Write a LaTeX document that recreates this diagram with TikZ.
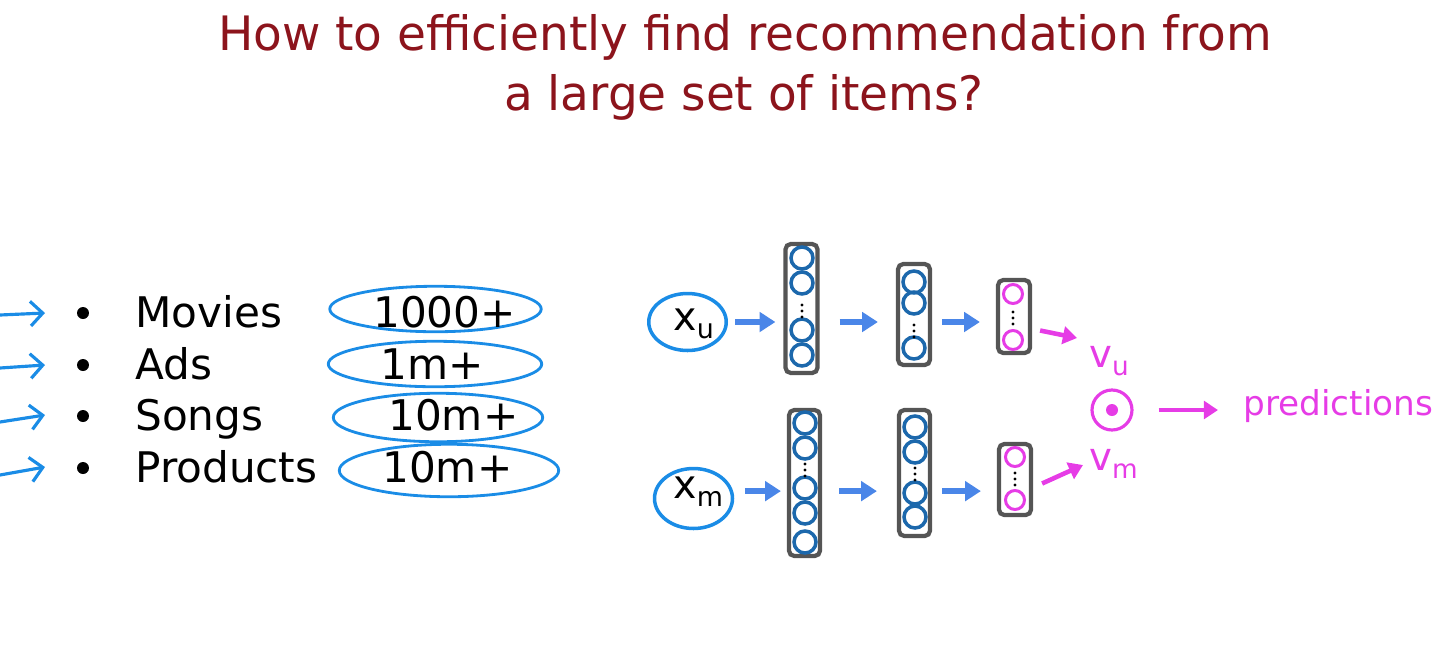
\documentclass[tikz,border=0pt]{standalone}
\usepackage{fontspec}
\setmainfont{DejaVu Sans}
\newfontfamily\condfont[FakeStretch=1.1]{DejaVu Sans Condensed}
\usetikzlibrary{arrows.meta,shapes.geometric,calc}
\definecolor{titlered}{HTML}{8C141C}
\definecolor{penblue}{HTML}{1A8CE6}
\definecolor{unitblue}{HTML}{1C68AC}
\definecolor{flowblue}{HTML}{4A86E8}
\definecolor{boxgray}{HTML}{555555}
\definecolor{vecpink}{HTML}{E63CE6}
\newcommand{\lowidx}[1]{\raisebox{-0.21em}{\scalebox{0.68}{#1}}}
\begin{document}
\begin{tikzpicture}[x=0.02cm,y=-0.02cm,
    headline/.style={font=\condfont\fontsize{27}{32}\selectfont,text=titlered,anchor=base,inner sep=0},
    itemtext/.style={font=\fontsize{24}{28}\selectfont,anchor=base west,inner sep=0},
    symtext/.style={font=\fontsize{22.5}{27}\selectfont,anchor=base west,inner sep=0},
    bulletdot/.style={circle,fill=black,minimum size=0.24cm,inner sep=0},
    ring/.style={ellipse,draw=penblue,line width=1.6pt,inner sep=0},
    handarrow/.style={draw=penblue,line width=1.8pt,line cap=round,-{Straight Barb[length=7pt,width=14pt]}},
    layerbox/.style={draw=boxgray,line width=2.4pt,rounded corners=3pt,minimum width=0.64cm,inner sep=0},
    neuron/.style={circle,draw=unitblue,line width=2pt,minimum size=0.44cm,inner sep=0},
    pinkneuron/.style={circle,draw=vecpink,line width=1.7pt,minimum size=0.38cm,inner sep=0},
    netarrow/.style={draw=flowblue,line width=3pt,-{Triangle[length=9pt,width=11pt]}},
    vecarrow/.style={draw=vecpink,line width=2.6pt,-{Triangle[length=8pt,width=10pt]}},
    veclabel/.style={font=\fontsize{22}{26}\selectfont,text=vecpink,anchor=base west,inner sep=0}]
\useasboundingbox (0,0) rectangle (1448,667);

% question
\node[headline] (head1) at (745,50) {How to efficiently find recommendation from};
\node[headline] (head2) at (744,110) {a large set of items?};

% item list
\foreach \word/\yy [count=\k] in {Movies/327,Ads/379,Songs/430,Products/482}{
  \node[itemtext] (item\k) at (135,\yy) {\word};
  \node[bulletdot] (bul\k) at (83,\yy-14) {};
}
\foreach \ya/\yb [count=\k] in {315/313,368/365,422/415,475/467}{
  \coordinate (tail\k) at (0,\ya);
  \coordinate (tip\k) at (45,\yb);
  \draw[handarrow] (tail\k) -- (tip\k);
}
\foreach \num/\xx/\yy/\cx/\cy/\w/\h [count=\k] in
    {1000+/373/327/435.5/309/4.23/0.91,
     1m+/380/379/435/364/4.27/0.91,
     10m+/388/430/438/417.5/4.19/0.97,
     10m+/382/482/449/470.5/4.39/1.05}{
  \node[ring,minimum width=\w cm,minimum height=\h cm] (ring\k) at (\cx,\cy) {};
  \node[itemtext] (num\k) at (\xx,\yy) {\num};
}

% user tower
\node[ring,line width=2pt,minimum width=1.55cm,minimum height=1.14cm] (xu) at (687.5,322) {};
\node[symtext] (xulab) at (673,330) {x\lowidx{u}};
\node[layerbox,minimum height=2.58cm] (u1) at (801.5,308.5) {};
\foreach \yy [count=\k] in {258,283,330,355} \node[neuron] (u1n\k) at (802,\yy) {};
\node[layerbox,minimum height=2.02cm] (u2) at (914,314.5) {};
\foreach \yy [count=\k] in {282,303,348} \node[neuron] (u2n\k) at (914,\yy) {};
\node[layerbox,minimum height=1.46cm] (u3) at (1014,316.5) {};
\foreach \yy [count=\k] in {294,340} \node[pinkneuron] (u3n\k) at (1013,\yy) {};

% movie tower
\node[ring,line width=2pt,minimum width=1.56cm,minimum height=1.2cm] (xm) at (693.5,498.5) {};
\node[symtext] (xmlab) at (673,498) {x\lowidx{m}};
\node[layerbox,minimum width=0.62cm,minimum height=2.92cm] (m1) at (804.5,483) {};
\foreach \yy [count=\k] in {423,448,488,513,542} \node[neuron] (m1n\k) at (805,\yy) {};
\node[layerbox,minimum width=0.62cm,minimum height=2.52cm] (m2) at (914.5,473) {};
\foreach \yy [count=\k] in {427,452,493,517} \node[neuron] (m2n\k) at (915,\yy) {};
\node[layerbox,minimum height=1.42cm] (m3) at (1015,479.5) {};
\foreach \yy [count=\k] in {457,500} \node[pinkneuron] (m3n\k) at (1015,\yy) {};

\foreach \cx/\cy in {802/311,914/331,1013/318,805/470,915/474,1015/479}
  \foreach \d in {-6,0,6} \fill (\cx,\cy+\d) circle (1.6);

\draw[netarrow,shorten <=0.14cm,shorten >=0.16cm] (xu.east) -- (xu.east -| u1.west);
\draw[netarrow,shorten <=0.4cm,shorten >=0.36cm] (u1.east |- xu) -- (u2.west |- xu);
\draw[netarrow,shorten <=0.2cm,shorten >=0.32cm] (u2.east |- xu) -- (u3.west |- xu);
\coordinate (mlane) at ([yshift=4.2pt]xm.east);
\draw[netarrow,shorten <=0.21cm,shorten >=0.12cm] (mlane) -- (mlane -| m1.west);
\draw[netarrow,shorten <=0.34cm,shorten >=0.4cm] (m1.east |- mlane) -- (m2.west |- mlane);
\draw[netarrow,shorten <=0.2cm,shorten >=0.32cm] (m2.east |- mlane) -- (m3.west |- mlane);

% dot product
\node[veclabel] (vu) at (1089,367) {v\lowidx{u}};
\node[veclabel] (vm) at (1089,470) {v\lowidx{m}};
\node[circle,draw=vecpink,line width=1.8pt,minimum size=0.8cm,inner sep=0] (odot) at (1112,410) {};
\fill[vecpink] (odot.center) circle (6);
\node[veclabel,font=\fontsize{19.5}{24}\selectfont] (pred) at (1243,415) {predictions};
\draw[vecarrow] ($(u3.east)+(8,14)$) -- ($(vu.base west)+(-12,-29)$);
\draw[vecarrow] ($(m3.east)+(9,4)$) -- ($(vm.base west)+(-6,-5)$);
\draw[vecarrow,shorten <=0.5cm,shorten >=0.5cm] (odot.east) -- (odot.east -| pred.west);
\end{tikzpicture}
\end{document}
